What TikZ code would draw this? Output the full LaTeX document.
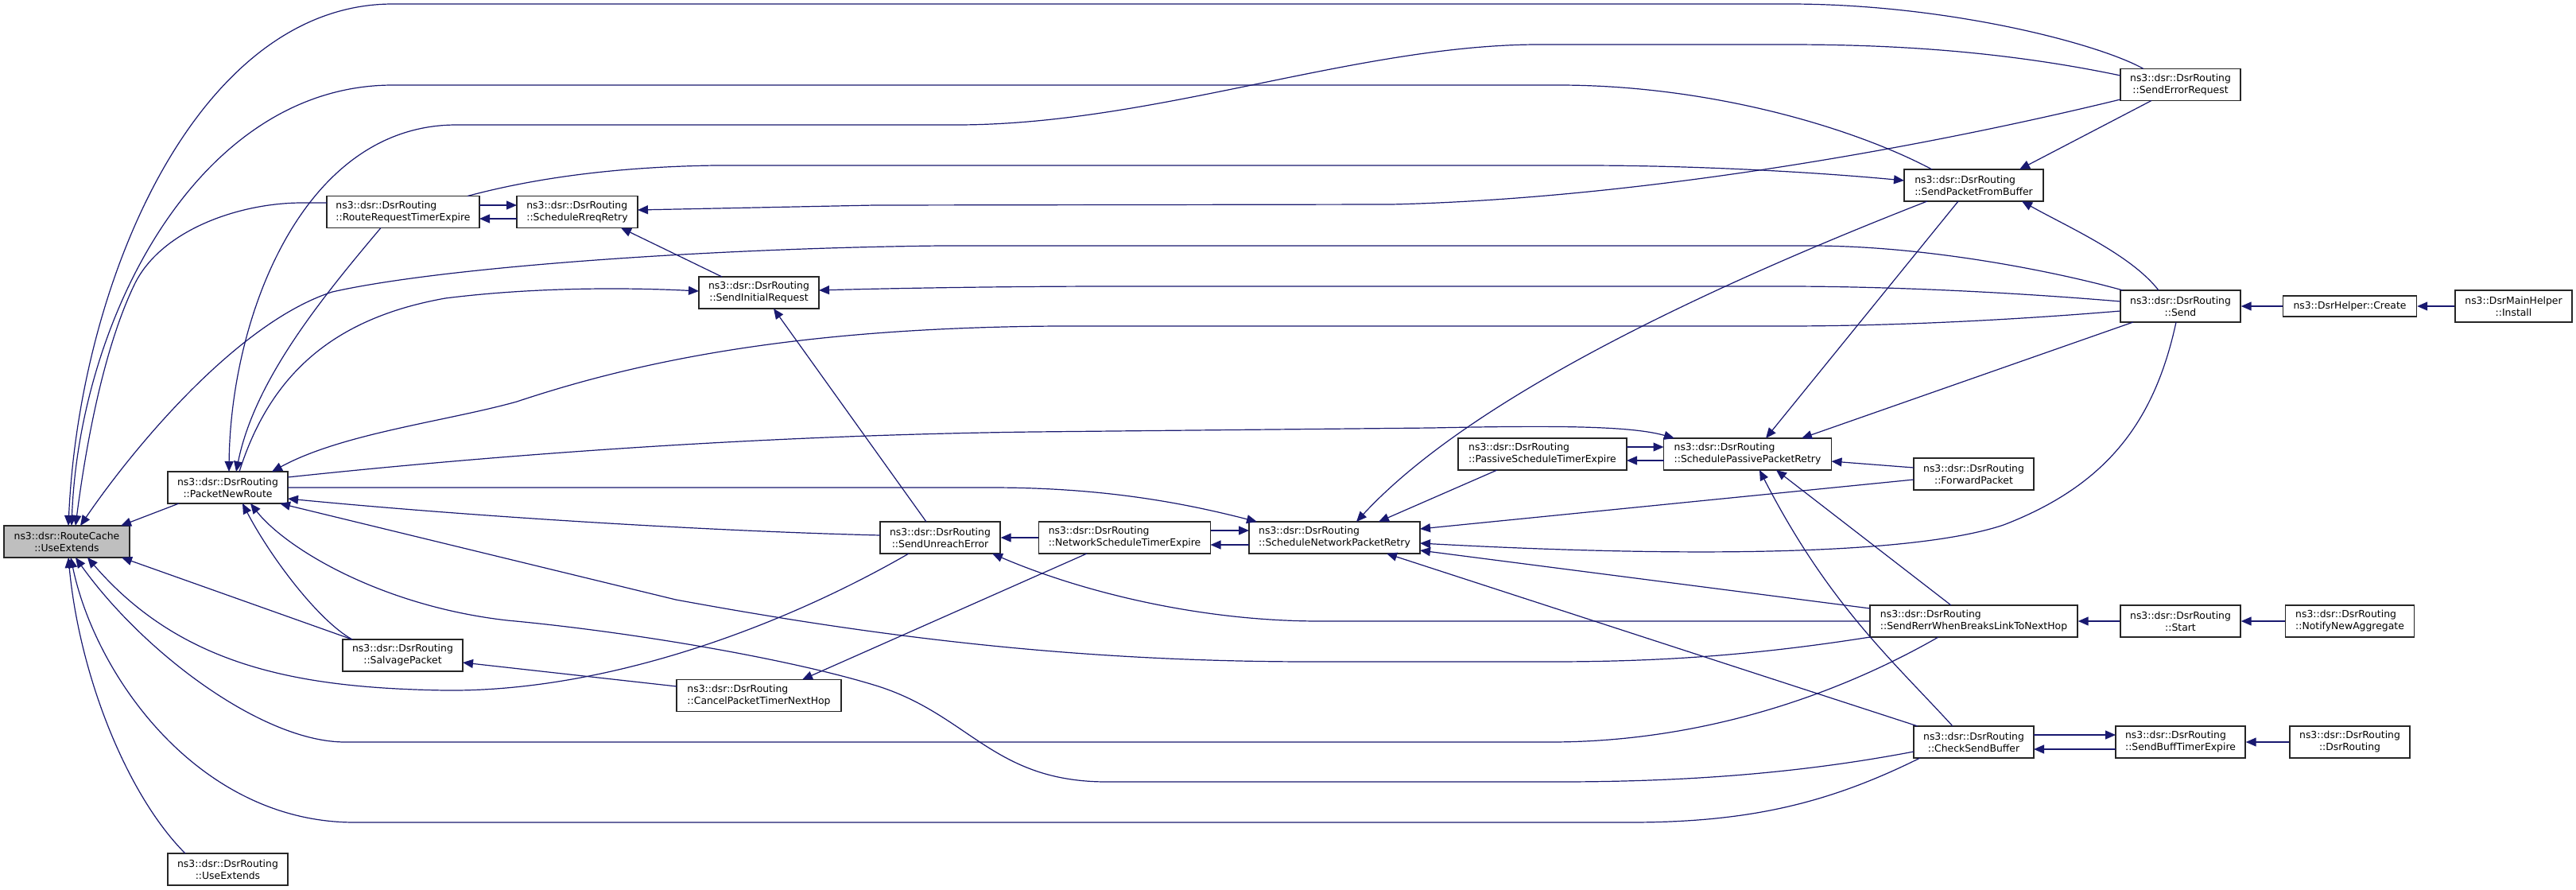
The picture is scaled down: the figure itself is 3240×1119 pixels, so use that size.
\documentclass[tikz,border=0pt]{standalone}
\usepackage{fontspec}
\newfontfamily\dvs{DejaVu Sans}
\usetikzlibrary{arrows.meta,calc}
\definecolor{edgeblue}{RGB}{25,25,112}
\definecolor{selgray}{RGB}{191,191,191}
\begin{document}
\begin{tikzpicture}[x=1pt,y=-1pt,
  fn/.style={draw=black!85, line width=1.4pt, fill=white, inner xsep=2pt, inner ysep=0pt, minimum height=40pt, align=center, font=\dvs\fontsize{12.4}{15}\selectfont},
  fnl/.style={fn, align=left},
  edge/.style={draw=edgeblue, line width=1.2pt, -{Triangle[length=13pt,width=11pt]}},
]
\fill[white] (0,0) rectangle (3240,1119);
\useasboundingbox (0,0) rectangle (3240,1119);

% nodes
\node[fn, fill=selgray, minimum width=158pt] (ue) at (84,681) {ns3::dsr::RouteCache\\::UseExtends};
\node[fn, minimum width=151pt] (pnr) at (286.5,613) {ns3::dsr::DsrRouting\\::PacketNewRoute};
\node[fn, minimum width=151pt] (ued) at (286.5,1093) {ns3::dsr::DsrRouting\\::UseExtends};
\node[fnl, minimum width=192pt] (rrte) at (507,266.5) {ns3::dsr::DsrRouting\\::RouteRequestTimerExpire};
\node[fnl, minimum width=152pt] (srr) at (726,266.5) {ns3::dsr::DsrRouting\\::ScheduleRreqRetry};
\node[fn, minimum width=151pt] (salv) at (506.5,824) {ns3::dsr::DsrRouting\\::SalvagePacket};
\node[fn, minimum width=151pt] (sir) at (954.5,368) {ns3::dsr::DsrRouting\\::SendInitialRequest};
\node[fnl, minimum width=207pt] (cptnh) at (954.5,874.5) {ns3::dsr::DsrRouting\\::CancelPacketTimerNextHop};
\node[fn, minimum width=151pt] (sue) at (1182.5,676) {ns3::dsr::DsrRouting\\::SendUnreachError};
\node[fnl, minimum width=216pt] (nste) at (1414.5,676) {ns3::dsr::DsrRouting\\::NetworkScheduleTimerExpire};
\node[fnl, minimum width=215pt] (snpr) at (1678.5,676) {ns3::dsr::DsrRouting\\::ScheduleNetworkPacketRetry};
\node[fnl, minimum width=212pt] (pste) at (1940,571) {ns3::dsr::DsrRouting\\::PassiveScheduleTimerExpire};
\node[fnl, minimum width=211pt] (sppr) at (2198,571) {ns3::dsr::DsrRouting\\::SchedulePassivePacketRetry};
\node[fnl, minimum width=175pt] (spfb) at (2482.5,233) {ns3::dsr::DsrRouting\\::SendPacketFromBuffer};
\node[fn, minimum width=151pt] (fp) at (2482.5,596) {ns3::dsr::DsrRouting\\::ForwardPacket};
\node[fnl, minimum width=261pt] (srwbl) at (2482.5,781) {ns3::dsr::DsrRouting\\::SendRerrWhenBreaksLinkToNextHop};
\node[fn, minimum width=151pt] (csb) at (2482.5,933) {ns3::dsr::DsrRouting\\::CheckSendBuffer};
\node[fn, minimum width=151pt] (ser) at (2742.5,106.5) {ns3::dsr::DsrRouting\\::SendErrorRequest};
\node[fn, minimum width=151pt] (send) at (2742.5,385) {ns3::dsr::DsrRouting\\::Send};
\node[fn, minimum width=151pt] (start) at (2742.5,781) {ns3::dsr::DsrRouting\\::Start};
\node[fnl, minimum width=163pt] (sbte) at (2742.5,933) {ns3::dsr::DsrRouting\\::SendBuffTimerExpire};
\node[fn, minimum width=168pt, minimum height=26pt] (create) at (2955.5,385) {ns3::DsrHelper::Create};
\node[fn, minimum width=147pt] (install) at (3161.5,385) {ns3::DsrMainHelper\\::Install};
\node[fnl, minimum width=162pt] (nna) at (2955.5,781) {ns3::dsr::DsrRouting\\::NotifyNewAggregate};
\node[fn, minimum width=151pt] (dsrr) at (2955.5,933) {ns3::dsr::DsrRouting\\::DsrRouting};

% edges into RouteCache::UseExtends
\draw[edge] ($(pnr)+(-61.5,20)$) -- ($(ue)+(68,-20)$);
\draw[edge] ($(ser)+(-46.5,-20)$) .. controls (2640,55) and (2450,5) .. (2250,5) -- (494,5) .. controls (250,5) and (100,350) .. ($(ue)+(2,-20)$);
\draw[edge] ($(spfb)+(-52.5,-20)$) .. controls (2330,160) and (2150,107) .. (1960,107) -- (494,107) .. controls (250,107) and (100,400) .. ($(ue)+(6,-20)$);
\draw[edge] ($(rrte)+(-96,-11.5)$) -- (380,255) .. controls (300,255) and (200,290) .. (168,360) .. controls (130,440) and (108,560) .. ($(ue)+(11,-20)$);
\draw[edge] ($(send)+(-72.5,-20)$) .. controls (2580,340) and (2420,309) .. (2278,309) -- (1183,309) .. controls (900,312) and (560,335) .. (418,367) .. controls (300,405) and (170,560) .. ($(ue)+(17,-20)$);
\draw[edge] ($(salv)+(-63.5,-20)$) -- ($(ue)+(69,20)$);
\draw[edge] ($(sue)+(-39.5,20)$) .. controls (980,790) and (760,870) .. (560,868) .. controls (380,865) and (230,840) .. ($(ue)+(26,20)$);
\draw[edge] ($(srwbl)+(-44.5,20)$) .. controls (2300,880) and (2130,933) .. (1950,933) -- (434,933) .. controls (330,933) and (180,820) .. ($(ue)+(11,20)$);
\draw[edge] ($(csb)+(-67.5,20)$) .. controls (2300,1010) and (2200,1034) .. (2050,1034) -- (446,1034) .. controls (250,1034) and (120,850) .. ($(ue)+(5,20)$);
\draw[edge] ($(ued)+(-53.5,-20)$) .. controls (160,1000) and (100,850) .. ($(ue)+(2,20)$);

% edges into PacketNewRoute
\draw[edge] ($(ser)+(-75.5,-11.5)$) .. controls (2500,60) and (2350,56) .. (2246,56) -- (1930,56) .. controls (1700,58) and (1450,157) .. (1203,157) -- (574,157) .. controls (380,157) and (290,400) .. ($(pnr)+(1.5,-20)$);
\draw[edge] ($(rrte)+(-28,20)$) .. controls (400,380) and (320,480) .. ($(pnr)+(10.5,-20)$);
\draw[edge] ($(send)+(-75.5,6)$) .. controls (2500,405) and (2350,410) .. (2246,410) -- (1330,410) .. controls (1000,412) and (800,455) .. (650,505) .. controls (560,530) and (430,545) .. ($(pnr)+(55.5,-20)$);
\draw[edge] ($(sue)+(-75.5,-3)$) .. controls (900,668) and (600,650) .. ($(pnr)+(75.5,14)$);
\draw[edge] ($(srwbl)+(-130.5,20)$) .. controls (2200,825) and (2080,832) .. (1950,832) -- (1650,832) .. controls (1350,832) and (1100,800) .. (850,754) -- ($(pnr)+(65.5,20)$);
\draw[edge] ($(csb)+(-75.5,12)$) .. controls (2250,975) and (2100,983) .. (1960,983) -- (1392,983) .. controls (1250,983) and (1220,900) .. (1105,863) .. controls (1000,830) and (800,795) .. (638,780) .. controls (480,762) and (360,690) .. ($(pnr)+(28.5,20)$);
\draw[edge] ($(salv)+(-63.5,-20)$) .. controls (400,780) and (340,700) .. ($(pnr)+(18.5,20)$);

% edges from PacketNewRoute (heads elsewhere)
\draw[edge] ($(pnr)+(14.5,-20)$) .. controls (340,470) and (420,400) .. (560,375) .. controls (680,360) and (800,362) .. ($(sir)+(-75.5,-2)$);
\draw[edge] ($(pnr)+(75.5,-13)$) .. controls (550,580) and (900,548) .. (1300,543) -- (1800,538) .. controls (1950,535) and (2050,535) .. ($(sppr)+(-92,-20)$);
\draw[edge] ($(pnr)+(75.5,0)$) -- (1246,613) .. controls (1380,613) and (1480,630) .. ($(snpr)+(-97.5,-20)$);

% RouteRequestTimerExpire / ScheduleRreqRetry
\draw[edge] ($(rrte)+(96,-8.5)$) -- ($(srr)+(-76,-8.5)$);
\draw[edge] ($(srr)+(-76,8.5)$) -- ($(rrte)+(96,8.5)$);
\draw[edge] ($(rrte)+(81,-20)$) .. controls (650,230) and (750,210) .. (900,208) -- (1990,208) .. controls (2150,208) and (2300,218) .. ($(spfb)+(-87.5,-6)$);
\draw[edge] ($(ser)+(-75.5,18.5)$) .. controls (2400,190) and (2050,250) .. (1750,257) -- (1100,258) -- ($(srr)+(76,-2.5)$);
\draw[edge] ($(sir)+(-46.5,-20)$) -- ($(srr)+(55,20)$);

% SendInitialRequest
\draw[edge] ($(send)+(-75.5,-6)$) .. controls (2500,365) and (2350,360) .. (2246,360) -- (1400,360) .. controls (1250,360) and (1100,363) .. ($(sir)+(75.5,-3)$);
\draw[edge] ($(sue)+(-17.5,-20)$) -- ($(sir)+(18.5,20)$);

% SalvagePacket / CancelPacketTimerNextHop
\draw[edge] ($(cptnh)+(-103.5,-11.5)$) -- ($(salv)+(75.5,9)$);
\draw[edge] ($(nste)+(-47.5,20)$) -- ($(cptnh)+(54.5,-20)$);

% SendUnreachError
\draw[edge] (nste.west) -- (sue.east);
\draw[edge] ($(srwbl)+(-130.5,0)$) -- (1660,781) .. controls (1500,781) and (1350,740) .. ($(sue)+(65.5,20)$);

% NetworkScheduleTimerExpire / ScheduleNetworkPacketRetry
\draw[edge] ($(nste)+(108,-9)$) -- ($(snpr)+(-107.5,-9)$);
\draw[edge] ($(snpr)+(-107.5,9)$) -- ($(nste)+(108,9)$);
\draw[edge] ($(spfb)+(-58.5,20)$) .. controls (2150,360) and (1850,500) .. ($(snpr)+(27.5,-20)$);
\draw[edge] ($(pste)+(-57,20)$) -- ($(snpr)+(55.5,-20)$);
\draw[edge] ($(fp)+(-75.5,7)$) -- ($(snpr)+(107.5,-11)$);
\draw[edge] ($(send)+(-5.5,20)$) .. controls (2710,530) and (2650,610) .. (2520,660) .. controls (2400,700) and (2100,700) .. ($(snpr)+(107.5,7)$);
\draw[edge] ($(srwbl)+(-130.5,-16)$) -- ($(snpr)+(107.5,16)$);
\draw[edge] ($(csb)+(-70.5,-20)$) -- ($(snpr)+(65.5,20)$);

% PassiveScheduleTimerExpire / SchedulePassivePacketRetry
\draw[edge] ($(pste)+(106,-9)$) -- ($(sppr)+(-105.5,-9)$);
\draw[edge] ($(sppr)+(-105.5,8)$) -- ($(pste)+(106,8)$);
\draw[edge] ($(spfb)+(-19.5,20)$) -- ($(sppr)+(23,-20)$);
\draw[edge] ($(send)+(-59.5,20)$) -- ($(sppr)+(68,-20)$);
\draw[edge] ($(fp)+(-75.5,-8)$) -- ($(sppr)+(105.5,9)$);
\draw[edge] ($(srwbl)+(-28.5,-20)$) -- ($(sppr)+(36,20)$);
\draw[edge] ($(csb)+(-26.5,-20)$) .. controls (2380,830) and (2300,760) .. ($(sppr)+(15,20)$);

% SendPacketFromBuffer
\draw[edge] ($(ser)+(-36.5,20)$) -- ($(spfb)+(57.5,-20)$);
\draw[edge] ($(send)+(-27.5,-20)$) .. controls (2680,320) and (2600,285) .. ($(spfb)+(60.5,20)$);

% right side
\draw[edge] (create.west) -- (send.east);
\draw[edge] (install.west) -- (create.east);
\draw[edge] (start.west) -- (srwbl.east);
\draw[edge] (nna.west) -- (start.east);
\draw[edge] ($(csb)+(75.5,-9)$) -- ($(sbte)+(-81.5,-9)$);
\draw[edge] ($(sbte)+(-81.5,9)$) -- ($(csb)+(75.5,9)$);
\draw[edge] (dsrr.west) -- (sbte.east);
\end{tikzpicture}
\end{document}
